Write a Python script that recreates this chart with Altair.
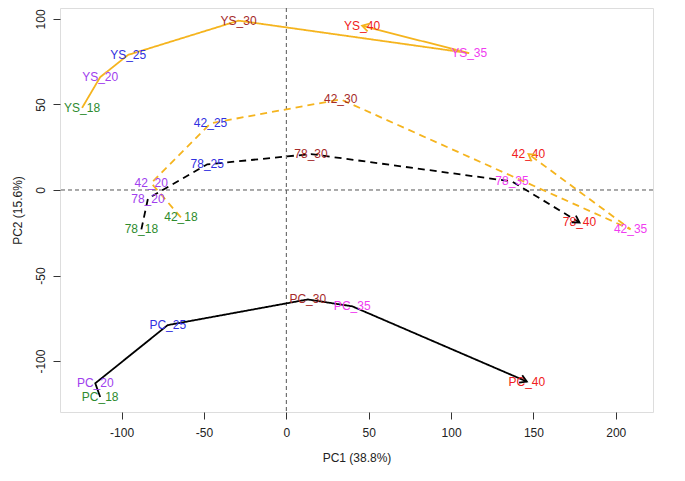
import math
import altair as alt
import pandas as pd

# ---- data ----
temps = ["18", "20", "25", "30", "35", "40"]
groups = ["YS", "42", "78", "PC"]

ys_x = [-124, -113, -96, -29, 111, 46]
ys_y = [48, 66, 79, 99, 80, 96]
g42_x = [-64, -82, -46, 33, 209, 147]
g42_y = [-16, 4, 39, 53, -23, 21]
g78_x = [-88, -84, -48, 15, 137, 178]
g78_y = [-23, -5, 15, 21, 5, -19]
pc_x = [-113, -116, -72, 13, 40, 146]
pc_y = [-121, -113, -79, -64, -68, -112]

xs = {"YS": ys_x, "42": g42_x, "78": g78_x, "PC": pc_x}
ys = {"YS": ys_y, "42": g42_y, "78": g78_y, "PC": pc_y}

x_ticks = [-100, -50, 0, 50, 100, 150, 200]
y_ticks = [-100, -50, 0, 50, 100]

# ---- styling ----
W, H = 593, 404
x_dom = [-137.4, 222.6]
y_dom = [-129.8, 106.4]
sx = W / (x_dom[1] - x_dom[0])
sy = H / (y_dom[1] - y_dom[0])

group_colors = ["#F5B41E", "#F5B41E", "#000000", "#000000"]
group_dash = [[1, 0], [7, 5], [7, 5], [1, 0]]
temp_colors = ["#2E8B2E", "#A040EE", "#3030E0", "#A52A2A", "#F03CF0", "#F02020"]

rows = []
for g in groups:
    for i, t in enumerate(temps):
        rows.append({"group": g, "idx": i, "x": xs[g][i], "y": ys[g][i],
                     "temp": t, "label": f"{g}_{t}"})
df = pd.DataFrame(rows)

arrow_rows = []
for g in groups:
    dx = (xs[g][-1] - xs[g][-2]) * sx
    dy = -(ys[g][-1] - ys[g][-2]) * sy
    ang = math.degrees(math.atan2(dy, dx)) % 360
    arrow_rows.append({"group": g, "x": xs[g][-1], "y": ys[g][-1], "angle": ang})
arrows = pd.DataFrame(arrow_rows)

font = "Liberation Sans"

xscale = alt.Scale(domain=x_dom, nice=False, zero=False)
yscale = alt.Scale(domain=y_dom, nice=False, zero=False)

x_enc = alt.X("x:Q", scale=xscale, title="PC1 (38.8%)",
              axis=alt.Axis(values=x_ticks, grid=False, tickSize=7, labelPadding=8,
                            titlePadding=14, domain=False, tickColor="#333",
                            labelExpr="toString(datum.value)",
                            labelColor="#222", titleColor="#222", labelFontSize=12,
                            titleFontSize=12, titleFontWeight="normal", labelFont=font,
                            titleFont=font))
y_enc = alt.Y("y:Q", scale=yscale, title="PC2 (15.6%)",
              axis=alt.Axis(values=y_ticks, grid=False, tickSize=7, labelAngle=-90,
                            labelAlign="center", labelBaseline="bottom", labelPadding=6,
                            titlePadding=10, domain=False, tickColor="#333",
                            labelExpr="toString(datum.value)",
                            labelColor="#222", titleColor="#222", labelFontSize=12,
                            titleFontSize=12, titleFontWeight="normal", labelFont=font,
                            titleFont=font))

base = alt.Chart(df)

ref_v = alt.Chart(pd.DataFrame({"x": [0]})).mark_rule(
    color="#555", strokeDash=[4, 3], strokeWidth=1).encode(x=alt.X("x:Q", scale=xscale))
ref_h = alt.Chart(pd.DataFrame({"y": [0]})).mark_rule(
    color="#555", strokeDash=[4, 3], strokeWidth=1).encode(y=alt.Y("y:Q", scale=yscale))

lines = base.mark_line(strokeWidth=1.8).encode(
    x=x_enc, y=y_enc,
    color=alt.Color("group:N", scale=alt.Scale(domain=groups, range=group_colors), legend=None),
    strokeDash=alt.StrokeDash("group:N", scale=alt.Scale(domain=groups, range=group_dash), legend=None),
    detail="group:N",
    order="idx:Q",
)

labels = base.mark_text(fontSize=12, font=font, align="center", baseline="middle").encode(
    x=alt.X("x:Q", scale=xscale), y=alt.Y("y:Q", scale=yscale),
    text="label:N",
    color=alt.Color("temp:N", scale=alt.Scale(domain=temps, range=temp_colors), legend=None),
)

heads = alt.Chart(arrows).mark_point(
    shape="M-1,-0.6L0,0L-1,0.6", filled=False, size=180, strokeWidth=1.8, opacity=1
).encode(
    x=alt.X("x:Q", scale=xscale), y=alt.Y("y:Q", scale=yscale),
    angle=alt.Angle("angle:Q", scale=None),
    stroke=alt.Stroke("group:N", scale=alt.Scale(domain=groups, range=group_colors), legend=None),
)

chart = alt.layer(ref_v, ref_h, lines, labels, heads).resolve_scale(
    color="independent", stroke="independent").properties(
    width=W, height=H,
    autosize=alt.AutoSizeParams(type="none"),
    padding={"left": 52, "top": 0, "right": 24, "bottom": 60},
).configure_view(stroke="#333", strokeWidth=1.2).configure(background="white")

chart.save("out.html", embed_options={"renderer": "svg", "actions": False})
